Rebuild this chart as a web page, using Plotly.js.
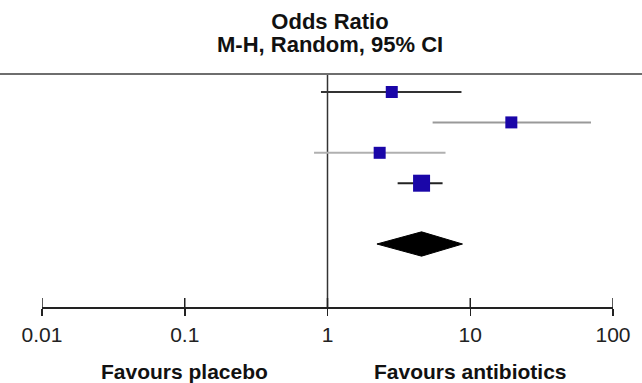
<!DOCTYPE html>
<html>
<head>
<meta charset="utf-8">
<script src="https://cdn.plot.ly/plotly-3.0.1.min.js"></script>
<style>html,body{margin:0;padding:0;background:#fff;}#chart{width:642px;height:383px;}</style>
</head>
<body>
<div id="chart"></div>
<script>
// Study rows (top to bottom)
const studyRows = [1, 2, 3, 4];
const studyOR = [2.82, 19.4, 2.32, 4.56];
const studyLow = [0.90, 5.45, 0.805, 3.10];
const studyHigh = [8.68, 70.1, 6.71, 6.40];
const studyWeightSize = [12, 12, 12, 17];
const studyLineColor = ['#333333', '#999999', '#b0b0b0', '#222222'];

// Pooled estimate (diamond)
const pooledRow = 6;
const pooledOR = 4.56;
const pooledLow = 2.22;
const pooledHigh = 8.82;

const tickVals = [0.01, 0.1, 1, 10, 100];
const tickText = ['0.01', '0.1', '1', '10', '100'];
const leftLabel = 'Favours placebo';
const rightLabel = 'Favours antibiotics';
const leftLabelAt = 0.1;
const rightLabelAt = 10;

const W = 642, H = 383;
const margin = {l: 42, r: 29, t: 74, b: 76};
const plotW = W - margin.l - margin.r;
const plotH = H - margin.t - margin.b;
const font = 'Liberation Sans, Arial, Helvetica, sans-serif';

const traces = [];
studyRows.forEach((r, i) => {
  traces.push({
    type: 'scatter', mode: 'lines',
    x: [studyLow[i], studyHigh[i]], y: [r, r],
    line: {color: studyLineColor[i], width: 2},
    hoverinfo: 'skip', showlegend: false
  });
});
traces.push({
  type: 'scatter', mode: 'markers',
  x: studyOR, y: studyRows,
  marker: {symbol: 'square', size: studyWeightSize, color: '#1a06a8', opacity: 1, line: {width: 0}},
  showlegend: false
});
const dh = 0.4;
traces.push({
  type: 'scatter', mode: 'lines', fill: 'toself',
  x: [pooledLow, pooledOR, pooledHigh, pooledOR, pooledLow],
  y: [pooledRow, pooledRow - dh, pooledRow, pooledRow + dh, pooledRow],
  line: {color: '#000', width: 1}, fillcolor: '#000',
  showlegend: false
});

const rowPx = 30.4;
const y0 = 1 - 18 / rowPx;
const yRange = [y0 + plotH / rowPx, y0];

const shapes = [
  {type: 'line', xref: 'paper', yref: 'paper', x0: -margin.l / plotW, x1: 1 + margin.r / plotW, y0: 1, y1: 1,
   line: {color: '#6e6e6e', width: 2}},
  {type: 'line', xref: 'x', yref: 'paper', x0: 1, x1: 1, y0: 0, y1: 1,
   line: {color: '#333', width: 1.5}, layer: 'below'}
];
// upward half of the crossing tick marks
tickVals.forEach(v => {
  shapes.push({type: 'line', xref: 'x', yref: 'paper', x0: v, x1: v, y0: 0, y1: 9 / plotH,
    line: {color: '#222', width: 1.5}});
});

const labelY = -(371 - (H - margin.b)) / plotH;

const layout = {
  width: W, height: H, margin: margin,
  paper_bgcolor: '#fff', plot_bgcolor: '#fff',
  font: {family: font, color: '#222'},
  title: {
    text: 'Odds Ratio',
    font: {family: font, size: 22, weight: 700, color: '#111'},
    xref: 'container', x: 330 / W, xanchor: 'center',
    yref: 'container', y: 1 - 21 / H, yanchor: 'middle'
  },
  xaxis: {
    type: 'log', range: [-2, 2],
    tickvals: tickVals, ticktext: tickText,
    ticks: 'outside', ticklen: 7, tickwidth: 1.5, tickcolor: '#222',
    showline: true, linecolor: '#222', linewidth: 1.5,
    showgrid: false, zeroline: false,
    tickfont: {family: font, size: 21, color: '#222'},
    ticklabelstandoff: 1,
    fixedrange: true
  },
  yaxis: {range: yRange, visible: false, showgrid: false, zeroline: false},
  shapes: shapes,
  annotations: [
    {text: 'M-H, Random, 95% CI', xref: 'paper', yref: 'paper',
     x: (330 - margin.l) / plotW, y: 1 + (margin.t - 45) / plotH,
     xanchor: 'center', yanchor: 'middle', showarrow: false,
     font: {family: font, size: 22, weight: 700, color: '#111'}},
    {text: leftLabel, xref: 'x', yref: 'paper', x: Math.log10(leftLabelAt), y: labelY,
     xanchor: 'center', yanchor: 'middle', showarrow: false,
     font: {family: font, size: 21, weight: 700, color: '#111'}},
    {text: rightLabel, xref: 'x', yref: 'paper', x: Math.log10(rightLabelAt), y: labelY,
     xanchor: 'center', yanchor: 'middle', showarrow: false,
     font: {family: font, size: 21, weight: 700, color: '#111'}}
  ]
};

Plotly.newPlot('chart', traces, layout, {displayModeBar: false, staticPlot: true});
</script>
</body>
</html>
